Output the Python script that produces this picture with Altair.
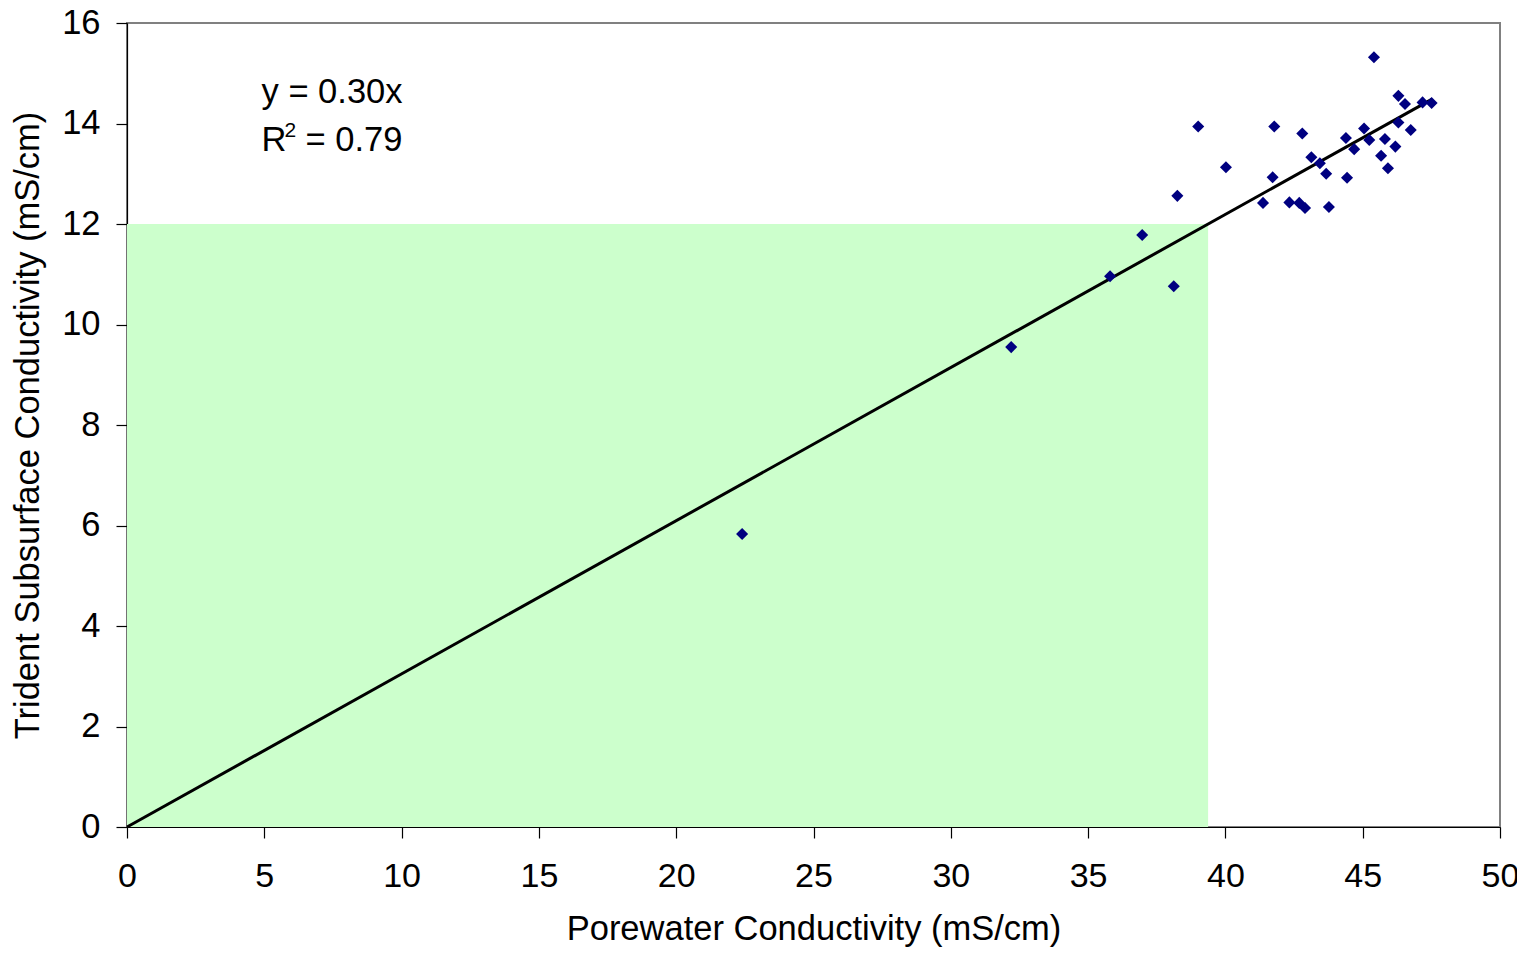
import altair as alt
import pandas as pd

# Porewater conductivity (x) and Trident subsurface conductivity (y), mS/cm
porewater = [45.41, 46.30, 46.54, 47.18, 47.51, 39.01, 41.78, 42.80, 46.30, 46.75,
             45.05, 44.39, 45.24, 45.81, 44.69, 46.19, 45.67, 43.13, 43.44, 45.92,
             40.02, 41.72, 43.67, 44.43, 38.25, 41.37, 42.33, 42.69, 42.90, 43.77,
             36.97, 35.80, 38.12, 32.20, 22.40]
trident = [15.32, 14.55, 14.39, 14.42, 14.41, 13.94, 13.94, 13.80, 14.02, 13.87,
           13.90, 13.71, 13.67, 13.69, 13.49, 13.54, 13.36, 13.33, 13.21, 13.11,
           13.13, 12.93, 13.00, 12.92, 12.56, 12.42, 12.43, 12.42, 12.32, 12.34,
           11.78, 10.96, 10.76, 9.55, 5.83]

trend_x = [0, 47.51]
trend_y = [0, 14.48]

zone_x = [0]
zone_x2 = [39.37]
zone_y = [0]
zone_y2 = [12]

eq_x = 4.9
eq1_y = 14.41
eq2_y = 13.46
eq1_text = "y = 0.30x"
eq2_r = "R"
eq2_sup = "2"
eq2_rest = "= 0.79"

FONT = "Liberation Sans"
FS = 34.5

pts = pd.DataFrame({"x": porewater, "y": trident})
trend = pd.DataFrame({"x": trend_x, "y": trend_y})
zone = pd.DataFrame({"x": zone_x, "x2": zone_x2, "y": zone_y, "y2": zone_y2})
eq1 = pd.DataFrame({"x": [eq_x], "y": [eq1_y], "t": [eq1_text]})
eqr = pd.DataFrame({"x": [eq_x], "y": [eq2_y], "t": [eq2_r]})
eqs = pd.DataFrame({"x": [eq_x], "y": [eq2_y], "t": [eq2_sup]})
eqe = pd.DataFrame({"x": [eq_x], "y": [eq2_y], "t": [eq2_rest]})

xscale = alt.Scale(domain=[0, 50], nice=False)
yscale = alt.Scale(domain=[0, 16], nice=False)

xaxis = alt.Axis(values=list(range(0, 51, 5)), title="Porewater Conductivity (mS/cm)",
                 grid=False, tickSize=11, labelPadding=21, titlePadding=19, labelFlush=False,
                 labelFontSize=34)
yaxis = alt.Axis(values=list(range(0, 17, 2)), title="Trident Subsurface Conductivity (mS/cm)",
                 grid=False, tickSize=11, labelPadding=16, titlePadding=16, labelFlush=False)

rect = alt.Chart(zone).mark_rect(color="#CCFFCC").encode(
    x=alt.X("x:Q", scale=xscale, axis=xaxis), x2="x2", y=alt.Y("y:Q", scale=yscale, axis=yaxis), y2="y2")

line = alt.Chart(trend).mark_line(color="black", strokeWidth=3).encode(
    x=alt.X("x:Q", scale=xscale), y=alt.Y("y:Q", scale=yscale))

points = alt.Chart(pts).mark_point(shape="diamond", filled=True, color="#000080", size=145, opacity=1).encode(
    x=alt.X("x:Q", scale=xscale), y=alt.Y("y:Q", scale=yscale))

def txt(df, fs=FS, dx=0, dy=0):
    return alt.Chart(df).mark_text(align="left", baseline="alphabetic", font=FONT, fontSize=fs,
                                   color="black", dx=dx, dy=dy).encode(
        x=alt.X("x:Q", scale=xscale), y=alt.Y("y:Q", scale=yscale), text="t:N")

chart = alt.layer(rect, line, points, txt(eq1), txt(eqr), txt(eqs, fs=21, dx=23, dy=-14),
                  txt(eqe, dx=44)).properties(
    width=1373, height=804,
    autosize=alt.AutoSizeParams(type="none"),
    padding={"left": 119, "top": 15, "right": 17, "bottom": 120},
).configure_view(stroke="#808080", strokeWidth=2).configure_axis(
    labelFont=FONT, titleFont=FONT, labelFontSize=FS, titleFontSize=FS,
    labelColor="black", titleColor="black", titleFontWeight="normal",
    domainColor="black", tickColor="black", domainWidth=1.2, tickWidth=1.2,
)

chart.save("out.html", embed_options={"renderer": "svg", "actions": False})
